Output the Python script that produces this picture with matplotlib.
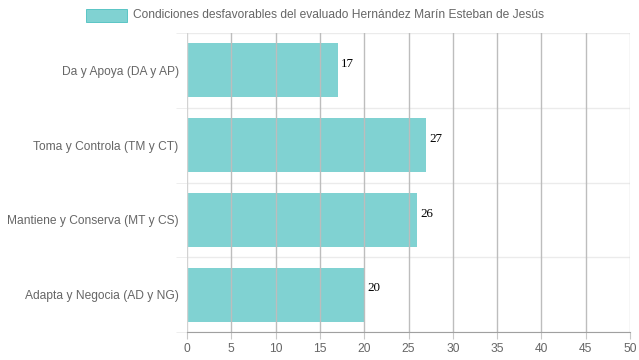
import matplotlib
matplotlib.use("Agg")
from matplotlib import pyplot as plt
from matplotlib.patches import Rectangle
import numpy as np

categories = ["Da y Apoya (DA y AP)", "Toma y Controla (TM y CT)",
              "Mantiene y Conserva (MT y CS)", "Adapta y Negocia (AD y NG)"]
values = [17, 27, 26, 20]
x_ticks = [0, 5, 10, 15, 20, 25, 30, 35, 40, 45, 50]
legend_label = "Condiciones desfavorables del evaluado Hernández Marín Esteban de Jesús"

bar_color = "#80d2d2"
W, H = 639, 360
fs = 12 * 72 / 100  # 12px

plt.rcParams['font.family'] = ['Liberation Sans', 'DejaVu Sans']

fig = plt.figure(figsize=(W / 100, H / 100), dpi=100)
ax = fig.add_axes([187 / W, 1 - 332 / H, (630 - 187) / W, (332 - 33) / H])

y = np.arange(len(categories))
ax.barh(y, values, height=0.72, color=bar_color, zorder=1)

ax.set_xlim(0, 50)
ax.set_ylim(len(categories) - 0.5, -0.5)
ax.set_xticks(x_ticks)
ax.set_yticks(y)
ax.set_yticklabels(categories)
ax.set_yticks(np.arange(len(categories) + 1) - 0.5, minor=True)

for xv in x_ticks:
    c = "#d2d2d2" if xv in (0, 50) else "#bdbdbd"
    ax.axvline(xv, color=c, lw=1, zorder=2)
ax.grid(which='minor', axis='y', color="#ebebeb", lw=1, zorder=0)

for s in ["top", "right", "left"]:
    ax.spines[s].set_visible(False)
ax.spines["bottom"].set_color("#a0a0a0")
ax.spines["bottom"].set_zorder(3)

ax.tick_params(axis='x', colors="#666666", labelsize=fs, length=5, color="#c8c8c8", pad=3)
ax.tick_params(axis='y', which='major', length=0, colors="#666666", labelsize=fs, pad=6)
ax.tick_params(axis='y', which='minor', length=8, color="#ebebeb")

for yi, v in zip(y, values):
    ax.annotate(str(v), (v, yi), xytext=(2.2, 4.5), textcoords="offset points",
                ha="left", va="center", fontsize=13 * 72 / 100,
                family="Liberation Serif", color="black", zorder=4)

# legend
fig.patches.append(Rectangle((86 / W, 1 - 22 / H), 41 / W, 13 / H,
                             transform=fig.transFigure, facecolor=bar_color,
                             edgecolor="#4bc0c0", lw=0.6))
fig.text(133 / W, 1 - 15.5 / H, legend_label, ha="left", va="center",
         fontsize=fs, color="#666666")

fig.savefig("out.png", dpi=100)
